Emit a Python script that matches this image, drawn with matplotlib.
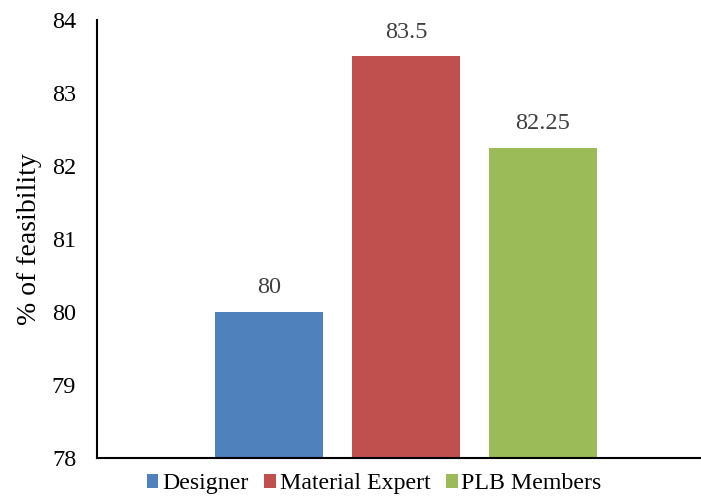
import matplotlib.pyplot as plt
from matplotlib.patches import Patch

# Feasibility scores by respondent group
groups = ['Designer', 'Material Expert', 'PLB Members']
feasibility = [80, 83.5, 82.25]
value_labels = ['80', '83.5', '82.25']
colors = ['#4F81BD', '#C0504D', '#9BBB59']

plt.rcParams['font.family'] = ['Liberation Serif', 'DejaVu Serif']

fig = plt.figure(figsize=(7.01, 4.97), dpi=100)
ax = fig.add_axes([0.1384, 0.0785, 0.8602, 0.8813])

positions = range(len(groups))
bars = ax.bar(positions, [v - 78 for v in feasibility], bottom=78,
              width=0.788, color=colors)

for bar, lbl in zip(bars, value_labels):
    ax.text(bar.get_x() + bar.get_width() / 2, bar.get_y() + bar.get_height() + 0.19,
            lbl, ha='center', va='bottom', fontsize=17.5, color='#404040')

ax.set_ylim(78, 84)
ax.set_xlim(-1.255, 3.146)
ax.set_yticks(range(78, 85))
ax.set_xticks([])
ax.tick_params(axis='y', length=0, labelsize=17.5, pad=15)
ax.set_ylabel('% of feasibility', fontsize=20, labelpad=7)

for side in ['top', 'right']:
    ax.spines[side].set_visible(False)
for side in ['left', 'bottom']:
    ax.spines[side].set_linewidth(1.5)
    ax.spines[side].set_color('black')

handles = [Patch(facecolor=c, label=g) for c, g in zip(colors, groups)]
fig.legend(handles=handles, loc='lower center', bbox_to_anchor=(374 / 701, -0.038),
           ncol=3, frameon=False, fontsize=17.2, handlelength=0.5, handleheight=0.5,
           handletextpad=0.15, columnspacing=0.65)

fig.savefig('out.png', dpi=100)
